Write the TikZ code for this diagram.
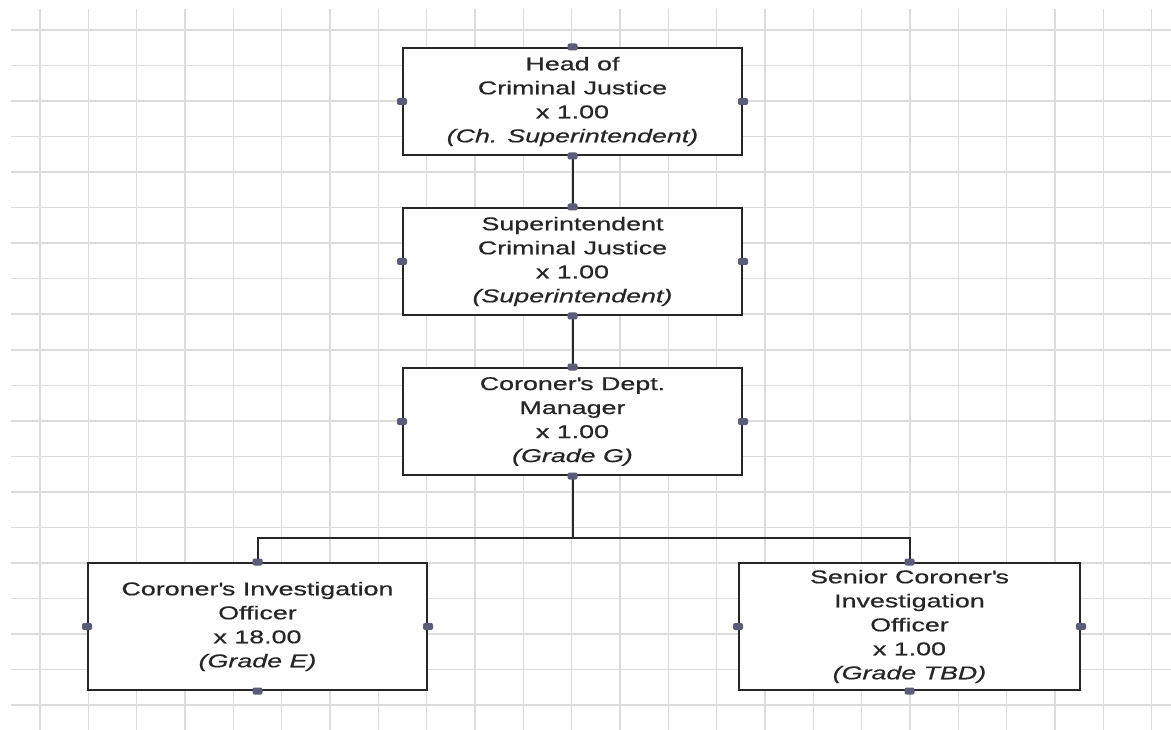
\documentclass[tikz,border=0pt]{standalone}
\usepackage{fontspec}
\setmainfont{Liberation Sans}[FakeStretch=1.45,FakeBold=0.6]
\usepackage{xcolor}
\definecolor{gridgray}{HTML}{DCDCDC}
\definecolor{handleblue}{HTML}{5B5B7A}
\definecolor{inkgray}{HTML}{262626}
\newcommand{\post}[3]{#1\\ x #2\\ \textit{(#3)}}
\newcommand{\apos}{\textquotesingle}

\begin{document}
\begin{tikzpicture}[x=1pt,y=-1pt,
  every node/.style={font=\fontsize{18.5}{24}\selectfont,text=inkgray},
  gridline/.style={draw=gridgray,line width=1.5pt},
  postbox/.style={rectangle,draw=inkgray,line width=2pt,fill=white,
                  align=center,inner sep=0pt,minimum height=107pt},
  link/.style={draw=inkgray,line width=2pt},
  handle/.style={rectangle,rounded corners=2pt,fill=handleblue,
                 minimum width=10pt,minimum height=7pt,inner sep=0pt}]
 \useasboundingbox (0,0) rectangle (1171,730);

 % background grid
 \foreach \i in {0,...,23}
   \draw[gridline] ({40+48.33*\i},9) -- ({40+48.33*\i},730);
 \foreach \j in {0,...,19}
   \draw[gridline] (11,{30+35.53*\j}) -- (1171,{30+35.53*\j});

 \draw (572.5,101.5)  node[postbox,minimum width=339pt] (HCJ)
              {\post{Head of\\ Criminal Justice}{1.00}{Ch. Superintendent}};

 \draw (572.5,261.5)  node[postbox,minimum width=339pt] (SCJ)
              {\post{Superintendent\\ Criminal Justice}{1.00}{Superintendent}};

 \draw (572.5,421.5)  node[postbox,minimum width=339pt] (CDM)
              {\post{Coroner\apos s Dept.\\ Manager}{1.00}{Grade G}};

 \draw (257.5,626.5)  node[postbox,minimum width=339pt,minimum height=127pt] (CIO)
              {\post{Coroner\apos s Investigation\\ Officer}{18.00}{Grade E}};

 \draw (909.5,626.5)  node[postbox,minimum width=341pt,minimum height=127pt] (SCIO)
              {\post{Senior Coroner\apos s\\ Investigation\\ Officer}{1.00}{Grade TBD}};

 \draw[link] (HCJ.south) -- (SCJ.north);
 \draw[link] (SCJ.south) -- (CDM.north);
 \draw[link] (CDM.south) -- ++(0,62) -| (CIO.north);
 \draw[link] (CDM.south) -- ++(0,62) -| (SCIO.north);

 % connection handles
 \foreach \n in {HCJ,SCJ,CDM,CIO,SCIO}
   \foreach \a in {north,south,east,west}
     \node[handle] at (\n.\a) {};

\end{tikzpicture}
\end{document}
